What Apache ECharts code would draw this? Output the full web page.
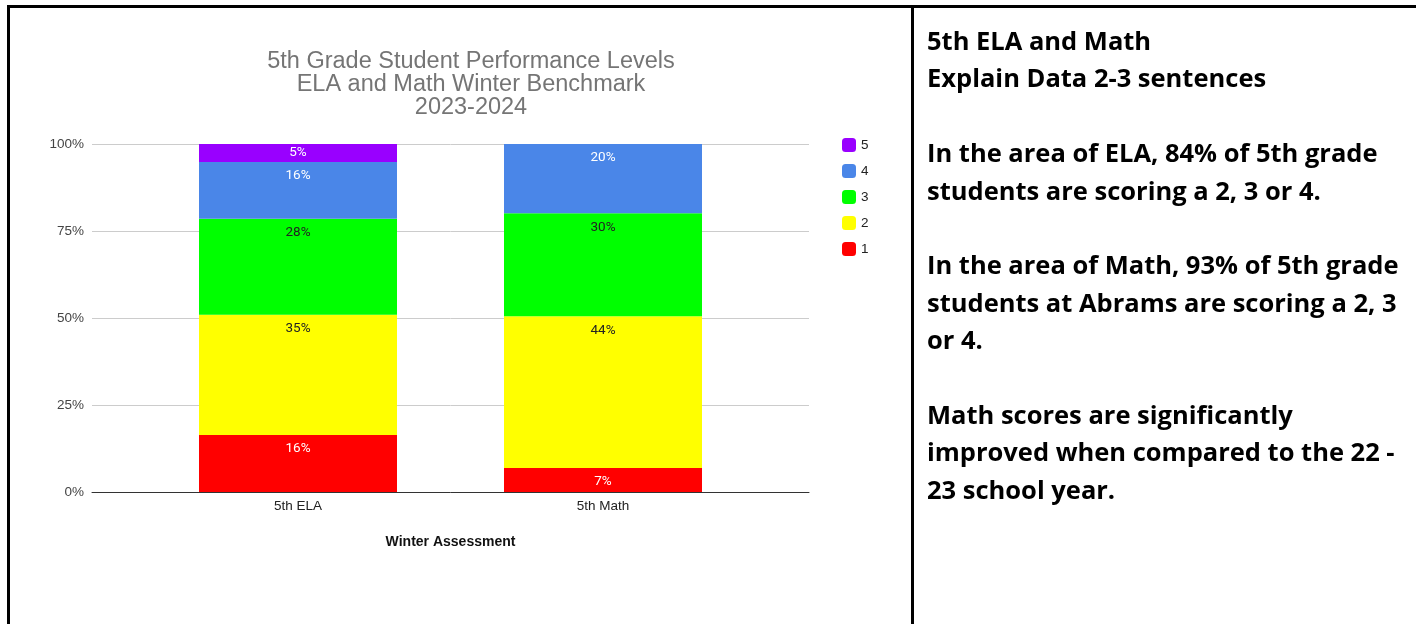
<!DOCTYPE html>
<html>
<head>
<meta charset="utf-8">
<script src="https://cdn.jsdelivr.net/npm/echarts@6/dist/echarts.min.js"></script>
<style>
html,body{margin:0;padding:0;background:#fff;}
#c{width:1416px;height:624px;}
</style>
</head>
<body>
<div id="c"></div>
<script>
const categories = ['5th ELA', '5th Math'];
const levels = ['1', '2', '3', '4', '5'];
const level1 = [16.4, 6.9];
const level2 = [34.5, 43.6];
const level3 = [27.6, 29.6];
const level4 = [16.3, 19.9];
const level5 = [5.2, 0];
const yTicks = [0, 25, 50, 75, 100];
const titleLines = ['5th Grade Student Performance Levels', 'ELA and Math Winter Benchmark', '2023-2024'];
const axisTitle = 'Winter Assessment';
const noteLines = [
  '5th ELA and Math',
  'Explain Data 2-3 sentences',
  '',
  'In the area of ELA, 84% of 5th grade',
  'students are scoring a 2, 3 or 4.',
  '',
  'In the area of Math, 93% of 5th grade',
  'students at Abrams are scoring a 2, 3',
  'or 4.',
  '',
  'Math scores are significantly',
  'improved when compared to the 22 -',
  '23 school year.'
];

const colors = {'1': '#ff0000', '2': '#ffff00', '3': '#00ff00', '4': '#4a86e8', '5': '#9900ff'};
const labelColors = {'1': '#ffffff', '2': '#222222', '3': '#222222', '4': '#ffffff', '5': '#ffffff'};
const seriesData = {'1': level1, '2': level2, '3': level3, '4': level4, '5': level5};

const chart = echarts.init(document.getElementById('c'), null, {renderer: 'canvas'});

const series = levels.map(function (lv) {
  return {
    name: lv,
    type: 'bar',
    stack: 'total',
    xAxisIndex: 1,
    yAxisIndex: 1,
    barWidth: 198,
    itemStyle: {color: colors[lv]},
    data: seriesData[lv],
    label: {
      show: true,
      position: lv === '5' ? 'inside' : 'insideTop',
      distance: 7,
      fontFamily: 'Roboto',
      fontSize: 13.5,
      color: labelColors[lv],
      formatter: function (p) { return p.value > 0 ? Math.round(p.value) + '%' : ''; }
    }
  };
});

const option = {
  animation: false,
  backgroundColor: '#ffffff',
  title: {
    text: titleLines.join('\n'),
    left: 466,
    top: 45,
    textAlign: 'center',
    textStyle: {
      fontFamily: 'Liberation Sans',
      fontSize: 23.5,
      fontWeight: 'normal',
      color: '#757575',
      lineHeight: 23
    }
  },
  legend: {
    data: ['5', '4', '3', '2', '1'],
    orient: 'vertical',
    left: 837,
    top: 133,
    itemWidth: 14,
    itemHeight: 14,
    itemGap: 12,
    icon: 'roundRect',
    textStyle: {fontFamily: 'Liberation Sans', fontSize: 13.5, color: '#222'}
  },
  grid: [
    {left: 92, right: 1416 - 809, top: 144, bottom: 624 - 492},
    {left: 145.5, right: 1416 - 755.5, top: 144, bottom: 624 - 492}
  ],
  xAxis: [
    {
      gridIndex: 0, type: 'value', min: 0, max: 1,
      axisLine: {show: true, lineStyle: {color: '#333', width: 1}},
      axisTick: {show: false}, axisLabel: {show: false}, splitLine: {show: false}
    },
    {
      gridIndex: 1, type: 'category', data: categories,
      axisLine: {show: false}, axisTick: {show: false},
      axisLabel: {margin: 7, fontFamily: 'Liberation Sans', fontSize: 13.5, color: '#222'},
      name: axisTitle, nameLocation: 'middle', nameGap: 43,
      nameTextStyle: {fontFamily: 'Liberation Sans', fontSize: 14, fontWeight: 'bold', color: '#111'}
    }
  ],
  yAxis: [
    {
      gridIndex: 0, type: 'value', min: yTicks[0], max: yTicks[yTicks.length - 1], interval: 25,
      axisLine: {show: false}, axisTick: {show: false},
      axisLabel: {margin: 8, fontFamily: 'Liberation Sans', fontSize: 13.5, color: '#444', formatter: '{value}%'},
      splitLine: {show: true, lineStyle: {color: '#cccccc', width: 1}}
    },
    {
      gridIndex: 1, type: 'value', min: 0, max: 100,
      show: false, splitLine: {show: false}
    }
  ],
  series: series,
  graphic: [
    {type: 'rect', shape: {x: 7, y: 5, width: 1409, height: 3}, style: {fill: '#000'}, z: 100},
    {type: 'rect', shape: {x: 7, y: 5, width: 3, height: 619}, style: {fill: '#000'}, z: 100},
    {type: 'rect', shape: {x: 911, y: 5, width: 3, height: 619}, style: {fill: '#000'}, z: 100},
    {
      type: 'text', left: 927, top: 24, z: 100,
      style: {
        text: noteLines.join('\n'),
        fontFamily: 'Open Sans', fontWeight: 'bold', fontSize: 25.5,
        lineHeight: 37.4, fill: '#000'
      }
    }
  ]
};
chart.setOption(option);
</script>
</body>
</html>
